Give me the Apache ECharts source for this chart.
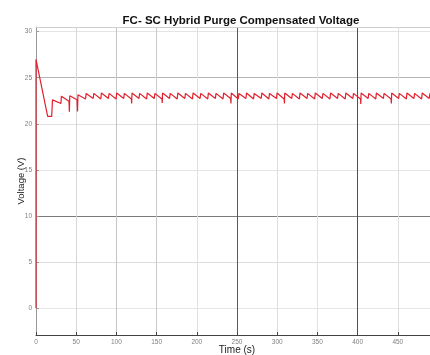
<!DOCTYPE html>
<html>
<head>
<meta charset="utf-8">
<script src="https://cdn.jsdelivr.net/npm/echarts@6/dist/echarts.min.js"></script>
<style>
  html, body { margin: 0; padding: 0; background: #fff; }
  #volt { width: 430px; height: 355px; }
</style>
</head>
<body>
<div id="volt"></div>
<script>
// time (s), voltage (V)
var purgeVoltage = [
    [0, 0], [0, 27], [14.5, 20.8], [19.5, 20.8], [20.5, 22.6],
    [31, 22.2], [31.6, 23.0], [41, 22.45], [41.5, 21.3], [42, 23.05],
    [51, 22.6], [51.6, 21.35], [52.2, 23.15],
    [61.6, 22.7], [62, 22.55], [62.4, 23.3],
    [71.1, 22.75], [71.5, 22.6], [71.9, 23.3],
    [80.6, 22.7], [81, 22.55], [81.4, 23.35],
    [90.1, 22.75], [90.5, 22.6], [90.9, 23.3],
    [99.6, 22.7], [100, 22.55], [100.4, 23.35],
    [109.1, 22.75], [109.5, 22.6], [109.9, 23.3],
    [118.6, 22.7], [119, 22.2], [119.4, 23.35],
    [128.1, 22.75], [128.5, 22.6], [128.9, 23.3],
    [137.6, 22.7], [138, 22.55], [138.4, 23.35],
    [147.1, 22.75], [147.5, 22.6], [147.9, 23.3],
    [156.6, 22.7], [157, 22.25], [157.4, 23.35],
    [166.1, 22.75], [166.5, 22.6], [166.9, 23.3],
    [175.6, 22.7], [176, 22.55], [176.4, 23.35],
    [185.1, 22.75], [185.5, 22.6], [185.9, 23.3],
    [194.6, 22.7], [195, 22.55], [195.4, 23.35],
    [204.1, 22.75], [204.5, 22.6], [204.9, 23.3],
    [213.6, 22.7], [214, 22.55], [214.4, 23.35],
    [223.1, 22.75], [223.5, 22.6], [223.9, 23.3],
    [232.6, 22.7], [233, 22.55], [233.4, 23.35],
    [242.1, 22.75], [242.5, 22.2], [242.9, 23.35],
    [251.6, 22.7], [252, 22.55], [252.4, 23.3],
    [261.1, 22.75], [261.5, 22.6], [261.9, 23.35],
    [270.6, 22.7], [271, 22.55], [271.4, 23.3],
    [280.1, 22.75], [280.5, 22.6], [280.9, 23.35],
    [289.6, 22.7], [290, 22.55], [290.4, 23.3],
    [299.1, 22.75], [299.5, 22.6], [299.9, 23.35],
    [308.6, 22.7], [309, 22.2], [309.4, 23.35],
    [318.1, 22.75], [318.5, 22.6], [318.9, 23.3],
    [327.6, 22.7], [328, 22.55], [328.4, 23.35],
    [337.1, 22.75], [337.5, 22.6], [337.9, 23.3],
    [346.6, 22.7], [347, 22.55], [347.4, 23.35],
    [356.1, 22.75], [356.5, 22.6], [356.9, 23.3],
    [365.6, 22.7], [366, 22.55], [366.4, 23.35],
    [375.1, 22.75], [375.5, 22.6], [375.9, 23.3],
    [384.6, 22.7], [385, 22.55], [385.4, 23.35],
    [394.1, 22.75], [394.5, 22.6], [394.9, 23.3],
    [403.6, 22.7], [404, 22.15], [404.4, 23.35],
    [413.1, 22.75], [413.5, 22.6], [413.9, 23.3],
    [422.6, 22.7], [423, 22.55], [423.4, 23.35],
    [432.1, 22.75], [432.5, 22.6], [432.9, 23.3],
    [441.6, 22.7], [442, 22.2], [442.4, 23.35],
    [451.1, 22.75], [451.5, 22.6], [451.9, 23.3],
    [460.6, 22.7], [461, 22.55], [461.4, 23.35],
    [470.1, 22.75], [470.5, 22.6], [470.9, 23.3],
    [479.6, 22.7], [480, 22.55], [480.4, 23.35],
    [489.1, 22.75], [489.5, 22.6], [489.9, 23.3],
    [498.6, 22.7], [499, 22.55], [499.4, 23.3], [500, 23.25]
];
var yTicks = [0, 5, 10, 15, 20, 25, 30];
var xGridColors = ['#ddd', '#d6d6d6', '#c4c4c4', '#cacaca', '#e0e0e0', '#5a5a5a', '#dedede', '#e2e2e2', '#505050', '#dedede', '#ddd'];
var yGridColors = ['#e6e6e6', '#dcdcdc', '#7a7a7a', '#e4e4e4', '#e0e0e0', '#b4b4b4', '#e4e4e4'];

var font = '"Liberation Sans", Arial, sans-serif';
var chart = echarts.init(document.getElementById('volt'));

var option = {
    animation: false,
    backgroundColor: '#fff',
    title: {
        text: 'FC- SC Hybrid Purge Compensated Voltage',
        left: 236,
        top: 10,
        textAlign: 'center',
        textStyle: { fontSize: 11.5, fontWeight: 'bold', color: '#111', fontFamily: font }
    },
    grid: { left: 36, width: 402, top: 27, bottom: 20, outerBoundsMode: 'none' },
    xAxis: [{
        type: 'value',
        min: 0,
        max: 500,
        interval: 50,
        name: 'Time (s)',
        nameLocation: 'middle',
        nameGap: 10,
        nameMoveOverlap: false,
        nameTextStyle: { fontSize: 10, color: '#222', fontFamily: font },
        axisLine: { onZero: false, lineStyle: { color: '#444' } },
        axisTick: { inside: true, length: 3, lineStyle: { color: '#444' } },
        axisLabel: { fontSize: 6.5, color: '#808080', margin: 4, fontFamily: font },
        splitLine: { lineStyle: { color: xGridColors, width: 1 } }
    }, {
        type: 'value',
        position: 'top',
        min: 0,
        max: 500,
        axisLine: { show: true, onZero: false, lineStyle: { color: '#cfcfcf' } },
        axisTick: { show: false },
        axisLabel: { show: false },
        splitLine: { show: false }
    }],
    yAxis: {
        type: 'value',
        min: -2.9,
        max: 30.5,
        name: 'Voltage (V)',
        nameLocation: 'middle',
        nameGap: 10,
        nameMoveOverlap: false,
        nameTextStyle: { fontSize: 9.5, color: '#222', fontFamily: font },
        axisLine: { show: true, onZero: false, lineStyle: { color: '#999' } },
        axisTick: { show: true, inside: true, length: 3, customValues: yTicks, lineStyle: { color: '#999' } },
        axisLabel: { fontSize: 6.5, color: '#808080', margin: 4, customValues: yTicks, fontFamily: font },
        splitLine: { lineStyle: { color: yGridColors, width: 1 } }
    },
    series: [{
        name: 'Voltage',
        type: 'line',
        showSymbol: false,
        data: purgeVoltage,
        lineStyle: { color: '#e0202e', width: 1.2 },
        itemStyle: { color: '#e0202e' }
    }]
};
chart.setOption(option);

window.addEventListener('resize', function () {
    chart.resize();
});
</script>
</body>
</html>
